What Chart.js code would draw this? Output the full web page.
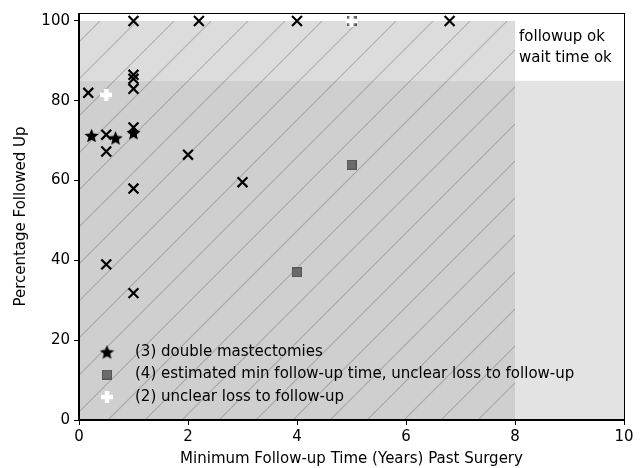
<!DOCTYPE html>
<html>
<head>
<meta charset="utf-8">
<script src="https://cdn.jsdelivr.net/npm/chart.js@4.4.1/dist/chart.umd.min.js"></script>
<style>
html, body { margin: 0; padding: 0; background: #fff; }
</style>
</head>
<body>
<canvas id="chart" width="643" height="468"></canvas>
<script>
// black x markers: plain studies
const crossX = [1, 2.2, 4, 6.8, 1, 1, 1, 0.17, 0.5, 0.5, 1, 2, 3, 1, 0.5, 1];
const crossY = [100, 100, 100, 100, 86.5, 85.5, 83, 82, 71.5, 67.3, 73.3, 66.5, 59.6, 58, 39, 31.8];

// (3) double mastectomies
const starX = [0.23, 0.67, 1];
const starY = [71.3, 70.7, 72];

// (4) estimated min follow-up time
const squareX = [4, 5, 5];
const squareY = [37, 64, 100];

// (2) unclear loss to follow-up
const plusX = [0.5, 5];
const plusY = [81.5, 100];

const seriesLabels = [
    '(3) double mastectomies',
    '(4) estimated min follow-up time, unclear loss to follow-up',
    '(2) unclear loss to follow-up'
];

const xTicks = [0, 2, 4, 6, 8, 10];
const yTicks = [0, 20, 40, 60, 80, 100];

const FONT = 'DejaVu Sans';
const FS = 15;

function toPoints(xs, ys) {
    return xs.map((x, i) => ({ x: x, y: ys[i] }));
}

function starImage(size, color) {
    const c = document.createElement('canvas');
    c.width = c.height = size;
    const g = c.getContext('2d');
    const r = size / 2, ri = r * 0.45;
    g.beginPath();
    for (let i = 0; i < 10; i++) {
        const a = -Math.PI / 2 + i * Math.PI / 5;
        const rr = i % 2 ? ri : r;
        g.lineTo(r + rr * Math.cos(a), r + 0.8 + rr * Math.sin(a));
    }
    g.closePath();
    g.fillStyle = color;
    g.fill();
    return c;
}

function squareImage(size, fill, edge) {
    const c = document.createElement('canvas');
    c.width = c.height = size;
    const g = c.getContext('2d');
    g.fillStyle = edge;
    g.fillRect(0, 0, size, size);
    g.fillStyle = fill;
    g.fillRect(1, 1, size - 2, size - 2);
    return c;
}

function plusImage(size, thick, color) {
    const c = document.createElement('canvas');
    c.width = c.height = size;
    const g = c.getContext('2d');
    g.fillStyle = color;
    g.fillRect(0, (size - thick) / 2, size, thick);
    g.fillRect((size - thick) / 2, 0, thick, size);
    return c;
}

// shaded regions + hatch, drawn under everything
const regionsPlugin = {
    id: 'regions',
    beforeDraw(chart) {
        const { ctx, scales: { x, y } } = chart;
        const x0 = x.getPixelForValue(0), x8 = x.getPixelForValue(8), x10 = x.getPixelForValue(10);
        const y0 = y.getPixelForValue(0), y85 = y.getPixelForValue(85), y100 = y.getPixelForValue(100);
        ctx.save();
        ctx.fillStyle = '#e3e3e3';
        ctx.fillRect(x8, y85, x10 - x8, y0 - y85);
        ctx.fillStyle = '#dcdcdc';
        ctx.fillRect(x0, y100, x8 - x0, y85 - y100);
        ctx.fillStyle = '#cfcfcf';
        ctx.fillRect(x0, y85, x8 - x0, y0 - y85);

        ctx.beginPath();
        ctx.rect(x0, y100, x8 - x0, y0 - y100);
        ctx.clip();
        ctx.strokeStyle = 'rgba(0,0,0,0.2)';
        ctx.lineWidth = 1.1;
        const step = 37;
        ctx.beginPath();
        for (let s = 10 - step * 2; s < 643 + 468 + step; s += step) {
            ctx.moveTo(s, 0);
            ctx.lineTo(s - 468, 468);
        }
        ctx.stroke();
        ctx.restore();
    },
    afterLayout(chart) {
        if (chart.legend) chart.legend.bottom = chart.chartArea.bottom - 8;
    },
    afterDraw(chart) {
        const { ctx, chartArea: a, scales: { x, y } } = chart;
        ctx.save();
        ctx.strokeStyle = '#000';
        ctx.lineWidth = 1;
        ctx.strokeRect(Math.round(a.left) - 0.5, Math.round(a.top) + 0.5,
            Math.round(a.right - a.left) + 1, Math.round(a.bottom - a.top) - 1);
        ctx.fillStyle = '#000';
        ctx.font = FS + 'px "' + FONT + '"';
        ctx.textBaseline = 'middle';
        const tx = x.getPixelForValue(8) + 4;
        ctx.fillText('followup ok', tx, y.getPixelForValue(100) + 16);
        ctx.fillText('wait time ok', tx, y.getPixelForValue(100) + 37);
        ctx.restore();
    }
};

const ctx = document.getElementById('chart').getContext('2d');
new Chart(ctx, {
    type: 'scatter',
    data: {
        datasets: [
            {
                label: seriesLabels[0],
                data: toPoints(starX, starY),
                pointStyle: starImage(15, '#000'),
                order: 2
            },
            {
                label: seriesLabels[1],
                data: toPoints(squareX, squareY),
                pointStyle: squareImage(10, '#6b6b6b', '#555'),
                order: 1
            },
            {
                label: seriesLabels[2],
                data: toPoints(plusX, plusY),
                pointStyle: plusImage(12, 4.5, '#fff'),
                order: 0
            },
            {
                label: 'other',
                data: toPoints(crossX, crossY),
                pointStyle: 'crossRot',
                pointRadius: 7,
                borderColor: '#000',
                borderWidth: 2.2,
                order: 3
            }
        ]
    },
    options: {
        responsive: false,
        animation: false,
        events: [],
        layout: { padding: { top: 13, right: 19, left: 0, bottom: 0 } },
        scales: {
            x: {
                type: 'linear',
                min: 0,
                max: 10,
                afterBuildTicks: s => { s.ticks = xTicks.map(v => ({ value: v })); },
                afterFit: s => { s.height = 48; },
                ticks: { color: '#000', font: { family: FONT, size: FS }, padding: 3 },
                grid: { drawOnChartArea: false, tickLength: 5, color: '#000' },
                border: { color: '#000' },
                title: {
                    display: true,
                    text: 'Minimum Follow-up Time (Years) Past Surgery',
                    color: '#000',
                    font: { family: FONT, size: FS },
                    padding: { top: 0, bottom: 0 }
                }
            },
            y: {
                min: 0,
                max: 102,
                afterBuildTicks: s => { s.ticks = yTicks.map(v => ({ value: v })); },
                afterFit: s => { s.width = 79; },
                ticks: { color: '#000', font: { family: FONT, size: FS }, padding: 4 },
                grid: { drawOnChartArea: false, tickLength: 5, color: '#000' },
                border: { color: '#000' },
                title: {
                    display: true,
                    text: 'Percentage Followed Up',
                    color: '#000',
                    font: { family: FONT, size: FS },
                    padding: { top: 12, bottom: 0 }
                }
            }
        },
        plugins: {
            legend: {
                position: 'chartArea',
                align: 'end',
                labels: {
                    usePointStyle: true,
                    pointStyleWidth: 41,
                    padding: 7.5,
                    color: '#000',
                    font: { family: FONT, size: FS },
                    filter: item => item.datasetIndex < 3,
                    sort: (a, b) => a.datasetIndex - b.datasetIndex
                }
            },
            tooltip: { enabled: false }
        }
    },
    plugins: [regionsPlugin]
});
</script>
</body>
</html>
